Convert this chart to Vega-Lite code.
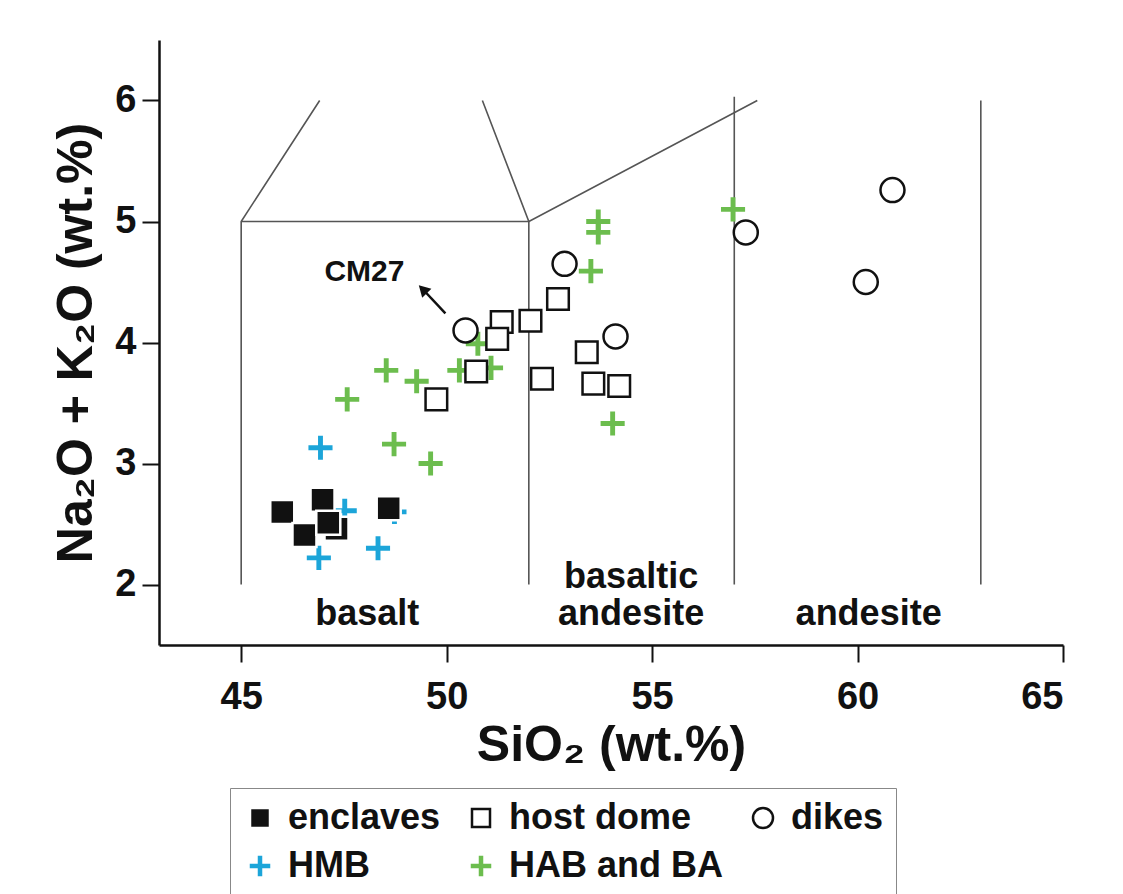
{
  "$schema": "https://vega.github.io/schema/vega-lite/v6.json",
  "autosize": {"type": "none"},
  "padding": {"left": 159, "top": 40, "right": 60, "bottom": 249},
  "width": 904,
  "height": 605,
  "background": "white",
  "config": {
    "font": "Liberation Sans",
    "view": {"stroke": null},
    "axis": {
      "grid": false,
      "domainColor": "#111",
      "domainWidth": 2.5,
      "tickColor": "#111",
      "tickWidth": 2,
      "tickSize": 17,
      "labelFont": "Liberation Sans",
      "labelFontSize": 38,
      "labelFontWeight": "bold",
      "labelColor": "#111",
      "titleFont": "Liberation Sans",
      "titleFontSize": 50,
      "titleFontWeight": "bold",
      "titleColor": "#111"
    }
  },
  "datasets": {
    "samples": [
      {"group": "HAB and BA", "sio2": 47.58, "alk": 3.53},
      {"group": "HAB and BA", "sio2": 48.53, "alk": 3.77},
      {"group": "HAB and BA", "sio2": 49.27, "alk": 3.68},
      {"group": "HAB and BA", "sio2": 48.72, "alk": 3.16},
      {"group": "HAB and BA", "sio2": 49.61, "alk": 3.0},
      {"group": "HAB and BA", "sio2": 50.31, "alk": 3.77},
      {"group": "HAB and BA", "sio2": 51.08, "alk": 3.79},
      {"group": "HAB and BA", "sio2": 50.76, "alk": 3.99},
      {"group": "HAB and BA", "sio2": 53.69, "alk": 5.0},
      {"group": "HAB and BA", "sio2": 53.69, "alk": 4.91},
      {"group": "HAB and BA", "sio2": 53.51, "alk": 4.59},
      {"group": "HAB and BA", "sio2": 54.04, "alk": 3.33},
      {"group": "HAB and BA", "sio2": 56.97, "alk": 5.1},
      {"group": "HMB", "sio2": 46.93, "alk": 3.13},
      {"group": "HMB", "sio2": 47.52, "alk": 2.61},
      {"group": "HMB", "sio2": 48.73, "alk": 2.6},
      {"group": "HMB", "sio2": 46.89, "alk": 2.22},
      {"group": "HMB", "sio2": 48.33, "alk": 2.3},
      {"group": "HMB", "sio2": 47.1, "alk": 2.45},
      {"group": "host dome", "sio2": 52.71, "alk": 4.36},
      {"group": "host dome", "sio2": 52.04, "alk": 4.18},
      {"group": "host dome", "sio2": 51.34, "alk": 4.17},
      {"group": "host dome", "sio2": 51.23, "alk": 4.03},
      {"group": "host dome", "sio2": 50.72, "alk": 3.76},
      {"group": "host dome", "sio2": 49.75, "alk": 3.53},
      {"group": "host dome", "sio2": 52.32, "alk": 3.7},
      {"group": "host dome", "sio2": 53.41, "alk": 3.92},
      {"group": "host dome", "sio2": 53.57, "alk": 3.66},
      {"group": "host dome", "sio2": 54.2, "alk": 3.64},
      {"group": "enclaves", "sio2": 47.32, "alk": 2.46},
      {"group": "enclaves", "sio2": 46.0, "alk": 2.6},
      {"group": "enclaves", "sio2": 46.54, "alk": 2.41},
      {"group": "enclaves", "sio2": 46.98, "alk": 2.7},
      {"group": "enclaves", "sio2": 47.12, "alk": 2.51},
      {"group": "enclaves", "sio2": 48.59, "alk": 2.63},
      {"group": "dikes", "sio2": 50.46, "alk": 4.1},
      {"group": "dikes", "sio2": 52.87, "alk": 4.65},
      {"group": "dikes", "sio2": 54.11, "alk": 4.05},
      {"group": "dikes", "sio2": 57.28, "alk": 4.91},
      {"group": "dikes", "sio2": 60.85, "alk": 5.26},
      {"group": "dikes", "sio2": 60.2, "alk": 4.5}
    ],
    "boundaries": [
      {"seg": "a", "i": 1, "sio2": 45, "alk": 2},
      {"seg": "a", "i": 2, "sio2": 45, "alk": 5},
      {"seg": "a", "i": 3, "sio2": 46.91, "alk": 6},
      {"seg": "b", "i": 1, "sio2": 45, "alk": 5},
      {"seg": "b", "i": 2, "sio2": 52, "alk": 5},
      {"seg": "b", "i": 3, "sio2": 50.87, "alk": 6},
      {"seg": "c", "i": 1, "sio2": 52, "alk": 2},
      {"seg": "c", "i": 2, "sio2": 52, "alk": 5},
      {"seg": "c", "i": 3, "sio2": 57.56, "alk": 6},
      {"seg": "d", "i": 1, "sio2": 57, "alk": 2},
      {"seg": "d", "i": 2, "sio2": 57, "alk": 6.03},
      {"seg": "e", "i": 1, "sio2": 63, "alk": 2},
      {"seg": "e", "i": 2, "sio2": 63, "alk": 6}
    ],
    "fields": [
      {"label": "basalt", "sio2": 48.07, "alk": 1.665},
      {"label": "basaltic\nandesite", "sio2": 54.49, "alk": 1.971},
      {"label": "andesite", "sio2": 60.27, "alk": 1.665}
    ],
    "callout": [
      {"label": "CM27", "sio2": 49.97, "alk": 4.24, "sio2_tip": 49.42, "alk_tip": 4.44, "sio2_text": 48.0, "alk_text": 4.58}
    ]
  },
  "layer": [
    {
      "data": {"name": "boundaries"},
      "mark": {"type": "line", "color": "#555", "strokeWidth": 1.6},
      "encoding": {
        "x": {"field": "sio2", "type": "quantitative", "scale": {"domain": [43, 65], "nice": false, "zero": false},
              "axis": {"values": [45, 50, 55, 60, 65], "format": "d", "title": "SiO₂ (wt.%)", "labelPadding": 16, "titlePadding": 4}},
        "y": {"field": "alk", "type": "quantitative", "scale": {"domain": [1.5, 6.5], "nice": false, "zero": false},
              "axis": {"values": [2, 3, 4, 5, 6], "format": "d", "title": "Na₂O + K₂O (wt.%)", "labelPadding": 6, "titlePadding": 13}},
        "detail": {"field": "seg"},
        "order": {"field": "i"}
      }
    },
    {
      "data": {"name": "fields"},
      "mark": {"type": "text", "font": "Liberation Sans", "fontSize": 36, "fontWeight": "bold", "color": "#111",
               "align": "center", "baseline": "alphabetic", "lineBreak": "\n", "lineHeight": 37},
      "encoding": {
        "x": {"field": "sio2", "type": "quantitative"},
        "y": {"field": "alk", "type": "quantitative"},
        "text": {"field": "label"}
      }
    },
    {
      "data": {"name": "callout"},
      "mark": {"type": "rule", "color": "#111", "strokeWidth": 2.5},
      "encoding": {
        "x": {"field": "sio2", "type": "quantitative"},
        "y": {"field": "alk", "type": "quantitative"},
        "x2": {"field": "sio2_tip"},
        "y2": {"field": "alk_tip"}
      }
    },
    {
      "data": {"name": "callout"},
      "mark": {"type": "point", "shape": "triangle-up", "filled": true, "color": "#111", "size": 170, "angle": -45, "opacity": 1},
      "encoding": {
        "x": {"field": "sio2_tip", "type": "quantitative"},
        "y": {"field": "alk_tip", "type": "quantitative"}
      }
    },
    {
      "data": {"name": "callout"},
      "mark": {"type": "text", "font": "Liberation Sans", "fontSize": 30, "fontWeight": "bold", "color": "#111", "align": "center", "baseline": "middle"},
      "encoding": {
        "x": {"field": "sio2_text", "type": "quantitative"},
        "y": {"field": "alk_text", "type": "quantitative"},
        "text": {"field": "label"}
      }
    },
    {
      "data": {"name": "samples"},
      "mark": {"type": "point", "filled": false, "strokeWidth": 2.5, "size": 576, "opacity": 1},
      "encoding": {
        "x": {"field": "sio2", "type": "quantitative"},
        "y": {"field": "alk", "type": "quantitative"},
        "shape": {
          "field": "group", "type": "nominal",
          "scale": {
            "domain": ["enclaves", "host dome", "dikes", "HMB", "HAB and BA"],
            "range": [
              "M-1,-1H1V1H-1Z",
              "M-0.9,-0.9H0.9V0.9H-0.9Z",
              "circle",
              "M-0.9,-0.1H0.9V0.1H-0.9Z M-0.1,-0.9H0.1V0.9H-0.1Z",
              "M-0.9,-0.1H0.9V0.1H-0.9Z M-0.1,-0.9H0.1V0.9H-0.1Z"
            ]
          },
          "legend": {
            "title": null,
            "orient": "none",
            "direction": "horizontal",
            "legendX": 71,
            "legendY": 748,
            "columns": 3,
            "columnPadding": 22,
            "rowPadding": 12,
            "padding": 12,
            "symbolSize": 400,
            "symbolStrokeWidth": 2.5,
            "labelFont": "Liberation Sans",
            "labelFontSize": 36,
            "labelFontWeight": "bold",
            "labelColor": "#111",
            "labelOffset": 10,
            "strokeColor": "#888",
            "fillColor": "white",
            "labelLimit": 400,
            "encode": {"legend": {"update": {"strokeWidth": {"value": 2}}}}
          }
        },
        "color": {
          "field": "group", "type": "nominal",
          "scale": {
            "domain": ["enclaves", "host dome", "dikes", "HMB", "HAB and BA"],
            "range": ["white", "#111", "#111", "#1CA5D9", "#6CBD4E"]
          }
        },
        "fill": {
          "field": "group", "type": "nominal",
          "scale": {
            "domain": ["enclaves", "host dome", "dikes", "HMB", "HAB and BA"],
            "range": ["#111", "white", "white", "#1CA5D9", "#6CBD4E"]
          }
        }
      }
    }
  ]
}
